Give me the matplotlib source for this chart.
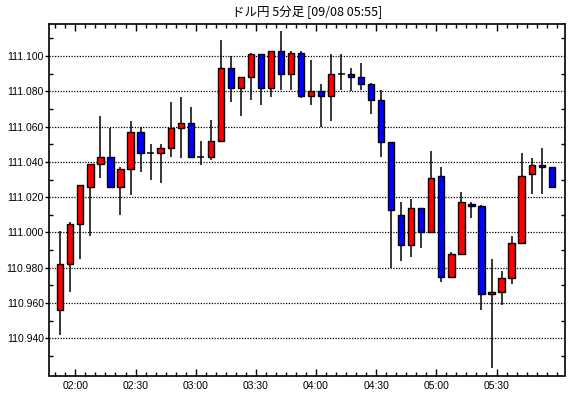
import numpy as np
import matplotlib
matplotlib.use("Agg")
import matplotlib.pyplot as plt
from matplotlib.ticker import MultipleLocator, FixedLocator

# 5分足 01:50 - 05:55
opens = [110.956, 110.982, 111.005, 111.026, 111.039, 111.043, 111.026, 111.036, 111.057, 111.045,
         111.045, 111.048, 111.059, 111.062, 111.043, 111.043, 111.052, 111.093, 111.082, 111.088,
         111.101, 111.082, 111.103, 111.090, 111.102, 111.0775, 111.080, 111.0775, 111.090, 111.090,
         111.088, 111.084, 111.075, 111.051, 111.010, 110.993, 111.014, 111.000, 111.032, 110.975,
         110.988, 111.016, 111.015, 110.965, 110.966, 110.974, 110.994, 111.033, 111.038, 111.037]
highs = [111.001, 111.006, 111.027, 111.039, 111.066, 111.059, 111.037, 111.063, 111.060, 111.050,
         111.050, 111.074, 111.077, 111.071, 111.052, 111.064, 111.109, 111.100, 111.088, 111.102,
         111.101, 111.103, 111.114, 111.103, 111.103, 111.098, 111.084, 111.101, 111.101, 111.093,
         111.096, 111.085, 111.081, 111.051, 111.017, 111.019, 111.014, 111.046, 111.037, 110.989,
         111.023, 111.017, 111.0155, 110.985, 110.978, 110.998, 111.045, 111.042, 111.048, 111.037]
lows = [110.942, 110.966, 110.985, 110.998, 111.031, 111.025, 111.010, 111.021, 111.034, 111.030,
        111.028, 111.043, 111.042, 111.043, 111.038, 111.041, 111.052, 111.074, 111.066, 111.075,
        111.072, 111.077, 111.081, 111.081, 111.076, 111.072, 111.060, 111.063, 111.081, 111.080,
        111.081, 111.067, 111.043, 110.980, 110.984, 110.986, 110.991, 111.000, 110.972, 110.974,
        110.988, 111.008, 110.956, 110.923, 110.959, 110.971, 110.994, 111.022, 111.022, 111.025]
closes = [110.982, 111.005, 111.027, 111.039, 111.043, 111.026, 111.036, 111.057, 111.045, 111.045,
          111.048, 111.059, 111.062, 111.043, 111.043, 111.052, 111.093, 111.082, 111.088, 111.101,
          111.082, 111.103, 111.090, 111.102, 111.0775, 111.080, 111.0775, 111.090, 111.090, 111.088,
          111.084, 111.075, 111.051, 111.013, 110.993, 111.014, 111.000, 111.031, 110.975, 110.988,
          111.017, 111.015, 110.965, 110.966, 110.974, 110.994, 111.032, 111.038, 111.037, 111.026]

time_labels = ["02:00", "02:30", "03:00", "03:30", "04:00", "04:30", "05:00", "05:30"]
price_ticks = [110.94, 110.96, 110.98, 111.00, 111.02, 111.04, 111.06, 111.08, 111.10]
title = "ドル円 5分足 [09/08 05:55]"

o = np.array(opens)
h = np.array(highs)
l = np.array(lows)
c = np.array(closes)
x = np.arange(len(o))

fig = plt.figure(figsize=(5.70, 3.98), dpi=100)
ax = fig.add_axes([49.3 / 570, 1 - 375.5 / 398, (564.7 - 49.3) / 570, (375.5 - 24.3) / 398])

# grid
for yv in price_ticks:
    ax.axhline(yv, color="black", lw=0.9, ls=(0, (1, 1.2)), zorder=1)

# wicks
ax.vlines(x, l, h, color="black", lw=1.1, zorder=2)

# bodies
up = c > o
down = c < o
doji = c == o
ax.bar(x[up], (c - o)[up], bottom=o[up], width=0.62, color="#ff0000",
       edgecolor="black", linewidth=1.0, zorder=3)
ax.bar(x[down], (o - c)[down], bottom=c[down], width=0.62, color="#0000ff",
       edgecolor="black", linewidth=1.0, zorder=3)
ax.hlines(o[doji], x[doji] - 0.35, x[doji] + 0.35, color="black", lw=1.1, zorder=3)

ax.set_xlim(-1.1, 50.3)
ax.set_ylim(110.9189, 111.118)

# ticks
ax.xaxis.set_major_locator(FixedLocator(np.arange(1.5, 50, 6)[:len(time_labels)]))
ax.set_xticklabels(time_labels)
ax.xaxis.set_minor_locator(FixedLocator(np.arange(-0.5, 50.5, 1.0)))
ax.yaxis.set_major_locator(FixedLocator(price_ticks))
ax.yaxis.set_minor_locator(FixedLocator([110.93, 110.95, 110.97, 110.99, 111.01,
                                         111.03, 111.05, 111.07, 111.09, 111.11]))
ax.set_yticklabels([f"{v:.3f}" for v in price_ticks])

ax.tick_params(axis="x", which="both", direction="in", top=True, bottom=True,
               pad=4, width=1, colors="black")
ax.tick_params(axis="x", which="major", length=5)
ax.tick_params(axis="x", which="minor", length=3)
ax.tick_params(axis="y", which="major", direction="out", length=3, width=1,
               pad=1, left=True, right=False)
ax.tick_params(axis="y", which="minor", direction="in", length=3, width=1,
               left=True, right=True)
for lab in ax.get_xticklabels() + ax.get_yticklabels():
    lab.set_fontfamily("Liberation Sans")
    lab.set_fontsize(7.5)

for s in ax.spines.values():
    s.set_linewidth(1.2)
    s.set_color("black")

fig.text((49.3 + 564.7) / 2 / 570, 1 - 12 / 398, title, ha="center", va="center",
         fontsize=9, family=["Noto Sans CJK JP", "DejaVu Sans"])

fig.savefig("out.png", dpi=100)
